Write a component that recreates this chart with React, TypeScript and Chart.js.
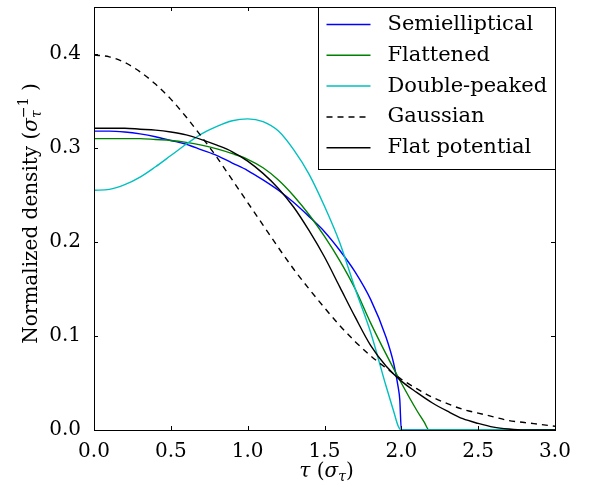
import React, { useEffect, useRef } from "react";
import { Chart, registerables } from "chart.js";

Chart.register(...registerables);

const FONT = "'DejaVu Serif', serif";

const X_TICKS = [0, 0.5, 1.0, 1.5, 2.0, 2.5, 3.0];
const Y_TICKS = [0, 0.1, 0.2, 0.3, 0.4];

const TAU = [0, 0.1, 0.2, 0.3, 0.4, 0.5, 0.6, 0.7, 0.8, 0.9, 1.0, 1.1, 1.2, 1.3, 1.4, 1.5, 1.6, 1.7, 1.8, 1.9, 2.0, 2.1, 2.2, 2.3, 2.4, 2.5, 2.6, 2.7, 2.8, 2.9, 3.0];

const GAUSSIAN = [0.399, 0.397, 0.391, 0.381, 0.368, 0.352, 0.333, 0.312, 0.290, 0.266, 0.242, 0.218, 0.194, 0.171, 0.150, 0.130, 0.111, 0.094, 0.079, 0.066, 0.054, 0.044, 0.035, 0.028, 0.022, 0.018, 0.014, 0.010, 0.008, 0.006, 0.004];

const FLAT_POTENTIAL = [0.321, 0.321, 0.321, 0.320, 0.319, 0.317, 0.314, 0.309, 0.303, 0.296, 0.286, 0.273, 0.257, 0.237, 0.212, 0.184, 0.152, 0.120, 0.090, 0.068, 0.052, 0.040, 0.029, 0.020, 0.012, 0.007, 0.003, 0.001, 0, 0, 0];

const SEMI_TAU = [0, 0.1, 0.2, 0.3, 0.4, 0.5, 0.6, 0.7, 0.8, 0.9, 1.0, 1.1, 1.2, 1.3, 1.4, 1.5, 1.6, 1.7, 1.8, 1.9, 1.95, 1.98, 1.99, 2.0, 2.5, 3.0];
const SEMIELLIPTICAL = [0.318, 0.318, 0.317, 0.315, 0.312, 0.308, 0.304, 0.298, 0.292, 0.284, 0.276, 0.266, 0.255, 0.242, 0.227, 0.211, 0.191, 0.168, 0.139, 0.099, 0.071, 0.045, 0.032, 0, 0, 0];

const FLATTENED_TAU = [0, 0.1, 0.2, 0.3, 0.4, 0.5, 0.6, 0.7, 0.8, 0.9, 1.0, 1.1, 1.2, 1.3, 1.4, 1.5, 1.6, 1.7, 1.8, 1.9, 2.0, 2.1, 2.15, 2.18, 2.5, 3.0];
const FLATTENED = [0.310, 0.310, 0.310, 0.310, 0.309, 0.308, 0.306, 0.303, 0.299, 0.294, 0.288, 0.279, 0.266, 0.249, 0.229, 0.206, 0.180, 0.150, 0.114, 0.081, 0.050, 0.021, 0.008, 0, 0, 0];

const DOUBLE_TAU = [0, 0.1, 0.2, 0.3, 0.4, 0.5, 0.6, 0.7, 0.8, 0.9, 1.0, 1.1, 1.2, 1.3, 1.4, 1.5, 1.6, 1.7, 1.8, 1.9, 1.95, 1.98, 2.0, 2.5, 3.0];
const DOUBLE_PEAKED = [0.255, 0.256, 0.261, 0.269, 0.280, 0.292, 0.304, 0.315, 0.323, 0.329, 0.331, 0.328, 0.318, 0.298, 0.272, 0.238, 0.199, 0.150, 0.104, 0.047, 0.020, 0.004, 0, 0, 0];

const SERIES_NAMES = ["Semielliptical", "Flattened", "Double-peaked", "Gaussian", "Flat potential"];
const SERIES_COLORS = ["#0000ff", "#008000", "#00bfbf", "#000000", "#000000"];

type Part = { t: string; s: number; i?: boolean; dy?: number; stack?: boolean };

function drawRich(ctx: CanvasRenderingContext2D, parts: Part[], cx: number, baseline: number) {
  let maxEnd = 0;
  let prevStart = 0;
  const placed: { p: Part; x: number }[] = [];
  for (const p of parts) {
    ctx.font = `${p.i ? "italic " : ""}${p.s}px ${FONT}`;
    const w = ctx.measureText(p.t).width;
    const start = p.stack ? prevStart : maxEnd;
    placed.push({ p, x: start });
    prevStart = start;
    maxEnd = Math.max(maxEnd, start + w);
  }
  const x0 = cx - maxEnd / 2;
  ctx.textAlign = "left";
  ctx.textBaseline = "alphabetic";
  ctx.fillStyle = "#000";
  for (const { p, x } of placed) {
    ctx.font = `${p.i ? "italic " : ""}${p.s}px ${FONT}`;
    ctx.fillText(p.t, x0 + x, baseline + (p.dy || 0));
  }
}

const decorPlugin = {
  id: "decor",
  afterDraw(chart: any) {
    const { ctx, chartArea } = chart;
    const { left, right, top, bottom } = chartArea;
    const xs = chart.scales.x;
    const ys = chart.scales.y;
    ctx.save();
    // frame
    ctx.strokeStyle = "#000";
    ctx.lineWidth = 1;
    ctx.strokeRect(Math.round(left) + 0.5, Math.round(top) + 0.5, Math.round(right - left), Math.round(bottom - top));
    // inward ticks
    ctx.beginPath();
    for (const v of X_TICKS) {
      const px = Math.round(xs.getPixelForValue(v)) + 0.5;
      ctx.moveTo(px, bottom);
      ctx.lineTo(px, bottom - 4);
      ctx.moveTo(px, top);
      ctx.lineTo(px, top + 4);
    }
    for (const v of Y_TICKS) {
      const py = Math.round(ys.getPixelForValue(v)) + 0.5;
      ctx.moveTo(left, py);
      ctx.lineTo(left + 4, py);
      ctx.moveTo(right, py);
      ctx.lineTo(right - 4, py);
    }
    ctx.stroke();

    // legend
    const bw = 237;
    const bh = 162;
    const bx = Math.round(right - bw) + 0.5;
    const by = Math.round(top) + 0.5;
    ctx.fillStyle = "#fff";
    ctx.fillRect(bx, by, bw, bh);
    ctx.strokeStyle = "#000";
    ctx.strokeRect(bx, by, bw, bh);
    ctx.font = `21px ${FONT}`;
    ctx.textBaseline = "middle";
    ctx.textAlign = "left";
    SERIES_NAMES.forEach((name, i) => {
      const ry = by + 17 + i * 30.8;
      ctx.beginPath();
      ctx.strokeStyle = SERIES_COLORS[i];
      ctx.lineWidth = 1.5;
      ctx.setLineDash(i === 3 ? [6, 5] : []);
      ctx.moveTo(bx + 8, ry);
      ctx.lineTo(bx + 52, ry);
      ctx.stroke();
      ctx.setLineDash([]);
      ctx.fillStyle = "#000";
      ctx.fillText(name, bx + 69, ry);
    });

    // x title
    drawRich(
      ctx,
      [
        { t: "τ", s: 20, i: true },
        { t: " (", s: 20 },
        { t: "σ", s: 20, i: true },
        { t: "τ", s: 14, i: true, dy: 4 },
        { t: ")", s: 20 },
      ],
      (left + right) / 2 + 2,
      477
    );

    // y title
    ctx.save();
    ctx.translate(37, (top + bottom) / 2 - 5);
    ctx.rotate(-Math.PI / 2);
    drawRich(
      ctx,
      [
        { t: "Normalized density (", s: 20 },
        { t: "σ", s: 20, i: true },
        { t: "τ", s: 14, i: true, dy: 4 },
        { t: "−1", s: 14, dy: -9, stack: true },
        { t: " )", s: 20 },
      ],
      0,
      0
    );
    ctx.restore();
    ctx.restore();
  },
};

export default function App() {
  const ref = useRef<HTMLCanvasElement | null>(null);
  useEffect(() => {
    if (!ref.current) return;
    const mk = (xsArr: number[], ysArr: number[]) => xsArr.map((t, i) => ({ x: t, y: ysArr[i] }));
    const allData = [
      mk(SEMI_TAU, SEMIELLIPTICAL),
      mk(FLATTENED_TAU, FLATTENED),
      mk(DOUBLE_TAU, DOUBLE_PEAKED),
      mk(TAU, GAUSSIAN),
      mk(TAU, FLAT_POTENTIAL),
    ];
    const chart = new Chart(ref.current, {
      type: "line",
      data: {
        datasets: allData.map((d, i) => ({
          label: SERIES_NAMES[i],
          data: d,
          borderColor: SERIES_COLORS[i],
          backgroundColor: SERIES_COLORS[i],
          borderWidth: 1.4,
          borderDash: i === 3 ? [6, 5] : [],
          pointRadius: 0,
          cubicInterpolationMode: "monotone" as const,
          fill: false,
          order: 4 - i,
        })),
      },
      options: {
        animation: false,
        responsive: false,
        layout: { padding: { left: 0, top: 7, right: 36, bottom: 0 } },
        plugins: { legend: { display: false }, tooltip: { enabled: false } },
        scales: {
          x: {
            type: "linear",
            min: 0,
            max: 3,
            afterBuildTicks: (s: any) => {
              s.ticks = X_TICKS.map((v) => ({ value: v }));
            },
            afterFit: (s: any) => {
              s.height = 57;
              s.paddingLeft = 0;
              s.paddingRight = 0;
            },
            ticks: {
              color: "#000",
              font: { family: FONT, size: 20 },
              padding: 2,
              maxRotation: 0,
              autoSkip: false,
              callback: (v: any) => Number(v).toFixed(1),
            },
            grid: { display: false },
            border: { display: false },
          },
          y: {
            type: "linear",
            min: 0,
            max: 0.45,
            afterBuildTicks: (s: any) => {
              s.ticks = Y_TICKS.map((v) => ({ value: v }));
            },
            afterFit: (s: any) => {
              s.width = 94;
              s.paddingTop = 0;
              s.paddingBottom = 0;
            },
            ticks: {
              color: "#000",
              font: { family: FONT, size: 20 },
              padding: 5,
              autoSkip: false,
              callback: (v: any) => Number(v).toFixed(1),
            },
            grid: { display: false },
            border: { display: false },
          },
        },
      },
      plugins: [decorPlugin],
    });
    return () => chart.destroy();
  }, []);
  return (
    <canvas
      ref={ref}
      width={591}
      height={487}
      style={{ position: "absolute", left: 0, top: 0, width: 591, height: 487, display: "block" }}
    />
  );
}
